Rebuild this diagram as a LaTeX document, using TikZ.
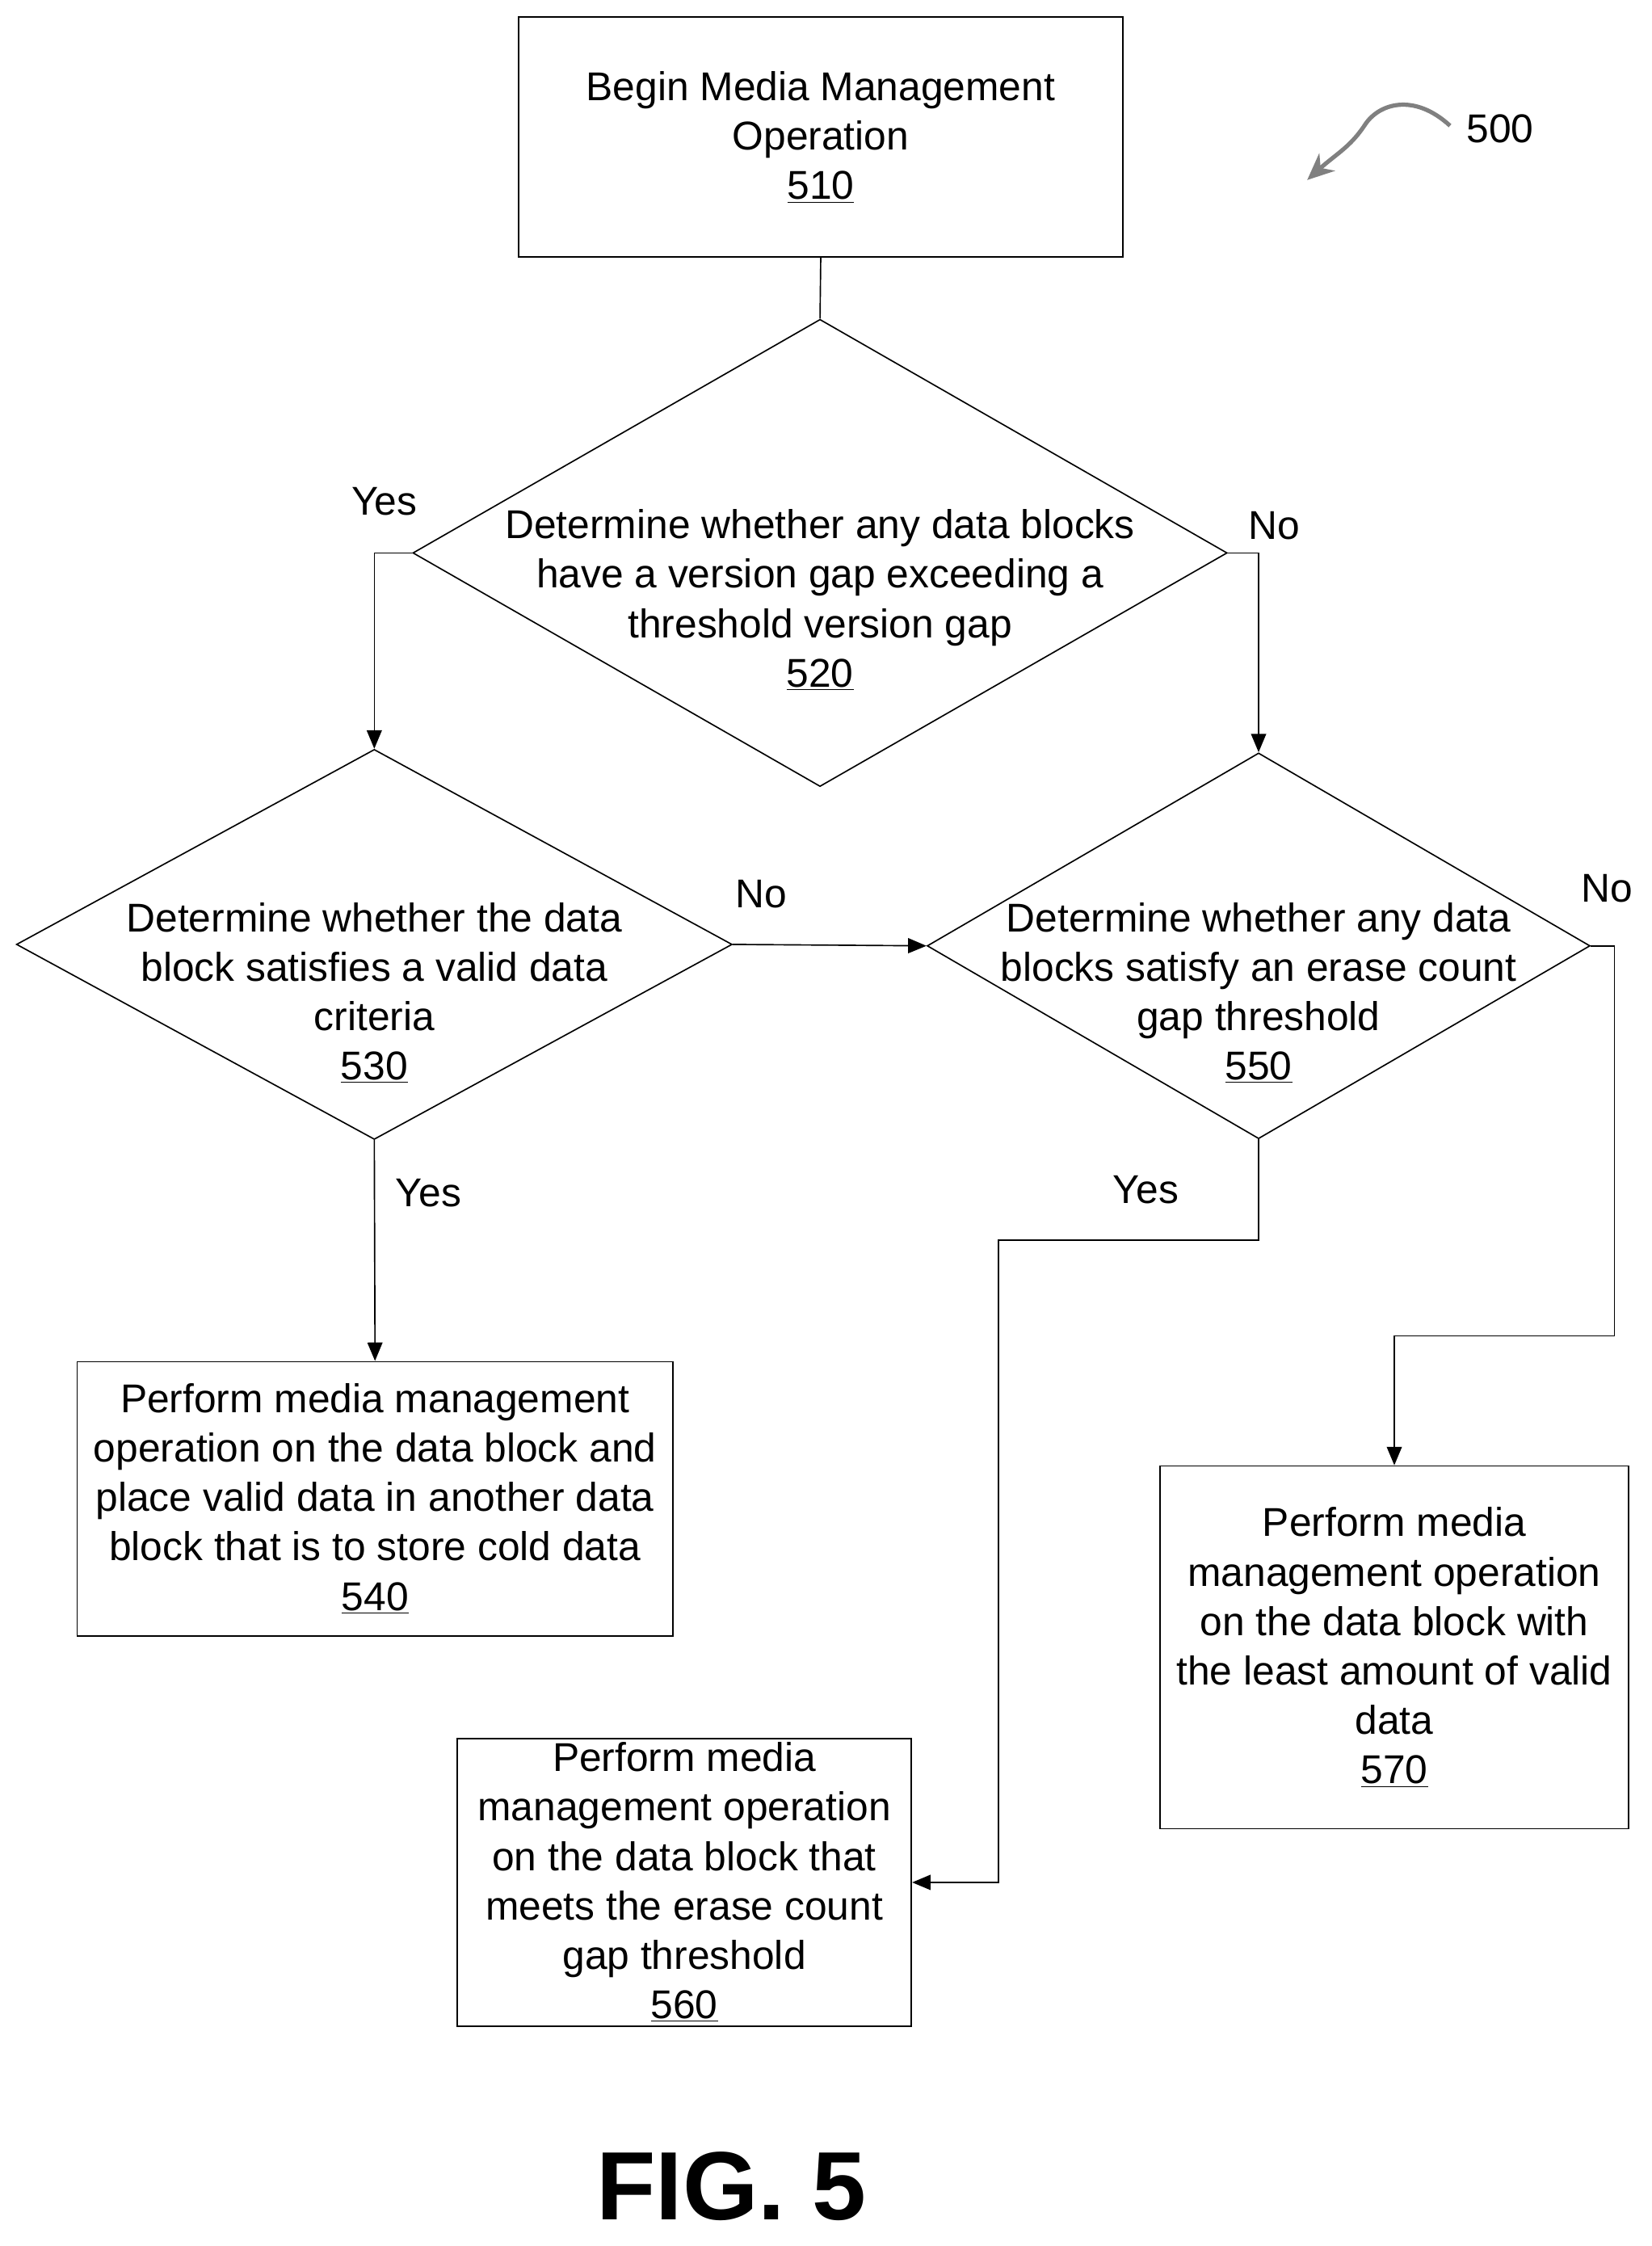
\documentclass[tikz,border=0pt]{standalone}
\usepackage{fontspec}
\setmainfont{Liberation Sans}
\usetikzlibrary{shapes.geometric,arrows.meta}

\tikzset{
    box/.style={draw, rectangle, line width=0.8pt, inner sep=0},
    dia/.style={draw, diamond, line width=0.8pt, inner sep=0},
    txt/.style={align=center, font=\fontsize{24}{29.5}\selectfont},
    lbl/.style={font=\fontsize{24}{29}\selectfont},
    flow/.style={line width=0.8pt},
    arr/.style={flow, -{Triangle[length=11pt,width=9pt]}}
}

\begin{document}
\begin{tikzpicture}[x=0.03cm, y=-0.03cm]
    \useasboundingbox (0,0) rectangle (1156,1572);

    % start
    \node[box, minimum width=12.69cm, minimum height=5.04cm] (b510) at (574.5,96) {};
    \node[txt] (t510) at (b510) {Begin Media Management\\Operation\\\underline{510}};

    % decisions
    \node[dia, minimum width=17.1cm, minimum height=9.81cm] (d520) at (574,387) {};
    \node[txt] (t520) at (574,420) {Determine whether any data blocks\\have a version gap exceeding a\\threshold version gap\\\underline{520}};

    \node[dia, minimum width=15.03cm, minimum height=8.19cm] (d530) at (262,661) {};
    \node[txt] (t530) at (262,695) {Determine whether the data\\block satisfies a valid data\\criteria\\\underline{530}};

    \node[dia, minimum width=13.92cm, minimum height=8.1cm] (d550) at (881,662) {};
    \node[txt] (t550) at (881,695) {Determine whether any data\\blocks satisfy an erase count\\gap threshold\\\underline{550}};

    % actions
    \node[box, minimum width=12.51cm, minimum height=5.76cm] (b540) at (262.5,1049) {};
    \node[txt] (t540) at (b540) {Perform media management\\operation on the data block and\\place valid data in another data\\block that is to store cold data\\\underline{540}};

    \node[box, minimum width=9.54cm, minimum height=6.03cm] (b560) at (479,1317.5) {};
    \node[txt] (t560) at (b560) {Perform media\\management operation\\on the data block that\\meets the erase count\\gap threshold\\\underline{560}};

    \node[box, minimum width=9.84cm, minimum height=7.62cm] (b570) at (976,1153) {};
    \node[txt] (t570) at (b570) {Perform media\\management operation\\on the data block with\\the least amount of valid\\data\\\underline{570}};

    % connectors
    \draw[flow] (b510.south) -- (d520.north);
    \draw[arr] (d520.west) -| (d530.north);
    \draw[arr] (d520.east) -| (d550.north);
    \draw[arr] (d530.east) -- (d550.west);
    \draw[arr] (d530.south) -- (b540.north);
    \coordinate (c1) at (699,868);
    \draw[arr] (d550.south) |- (c1) |- (b560.east);
    \coordinate (c2) at (1130,935);
    \draw[arr] (d550.east) -| (c2) -| (b570.north);

    % labels
    \node[lbl] (yes1) at (269,351) {Yes};
    \node[lbl] (no1) at (892,368) {No};
    \node[lbl] (no2) at (533,626) {No};
    \node[lbl] (yes2) at (300,835) {Yes};
    \node[lbl] (yes3) at (802,833) {Yes};
    \node[lbl] (no3) at (1125,622) {No};

    % reference
    \node[lbl] (r500) at (1050,90) {500};
    \draw[gray, line width=2.5pt, -{Stealth[length=16pt,width=14pt]}]
        (1015,88) .. controls (990,65) and (965,72) .. (955,88) .. controls (945,103) and (935,108) .. (915,126);

    \node[font=\bfseries\fontsize{58}{60}\selectfont] (fig) at (512,1530) {FIG. 5};
\end{tikzpicture}
\end{document}
